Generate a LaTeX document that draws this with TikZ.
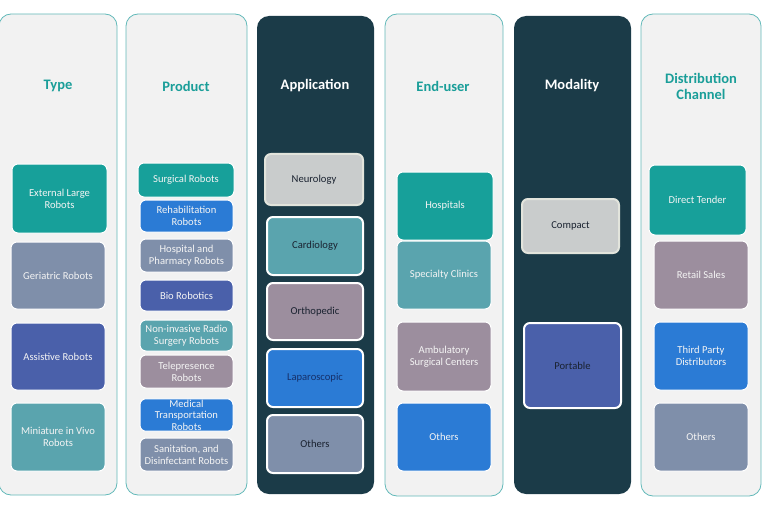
\documentclass[tikz,border=0pt]{standalone}
\usepackage{fontspec}
\setmainfont{Carlito}
\definecolor{cteal}{HTML}{17A09A}
\definecolor{chdr}{HTML}{1A9E99}
\definecolor{cdark}{HTML}{1B3B48}
\definecolor{clight}{HTML}{F2F2F2}
\definecolor{cborder}{HTML}{62B9B9}
\definecolor{cblue}{HTML}{2B7BD5}
\definecolor{cindigo}{HTML}{4A60AA}
\definecolor{cgrayblue}{HTML}{7F8FAA}
\definecolor{cmauve}{HTML}{9C8E9E}
\definecolor{csteel}{HTML}{5AA4AE}
\definecolor{cpale}{HTML}{C9CCCC}
\definecolor{cpaleb}{HTML}{E2E4DC}
\definecolor{ctxt}{HTML}{F4F4F4}
\definecolor{cdtxt}{HTML}{1A2230}
\definecolor{cnavy}{HTML}{16306A}
\newcommand\mybox[7]{\node[#6, minimum width={((#4)-(#2))*1pt}, minimum height={((#5)-(#3))*1pt}] (#1) at ({((#2)+(#4))/2},{((#3)+(#5))/2}) {#7};}
\tikzset{
  lcol/.style={draw=cborder, line width=0.8pt, fill=clight, rounded corners=12pt, inner sep=0pt},
  dcol/.style={fill=cdark, rounded corners=12pt, inner sep=0pt},
  hdrl/.style={font=\bfseries\fontsize{14.5}{16}\selectfont, text=chdr, align=center},
  hdrd/.style={font=\bfseries\fontsize{14.5}{16}\selectfont, text=white, align=center},
  bx/.style={fill=#1, draw=white, line width=1pt, rounded corners=6pt, inner sep=1pt, align=center, text=ctxt, font=\fontsize{10.6}{12}\selectfont},
  dbx/.style={fill=#1, draw=white, line width=2pt, rounded corners=6pt, inner sep=1pt, align=center, text=cdtxt, font=\fontsize{10.6}{12.5}\selectfont},
  pbx/.style={fill=cpale, draw=cpaleb, line width=2pt, rounded corners=6pt, inner sep=1pt, align=center, text=cdtxt, font=\fontsize{10.6}{12.5}\selectfont},
}
\begin{document}
\begin{tikzpicture}[x=1pt,y=-1pt]
\useasboundingbox (0,0) rectangle (775,513);
% columns
\mybox{ctype}{-1}{14}{117}{495}{lcol}{}
\mybox{cprod}{126}{14}{247}{495}{lcol}{}
\mybox{capp}{257}{16}{374}{494}{dcol}{}
\mybox{cend}{385}{14}{503}{496}{lcol}{}
\mybox{cmod}{514}{16}{631}{494}{dcol}{}
\mybox{cdist}{641}{14}{761}{496}{lcol}{}
% headers
\node[hdrl] (htype) at (58,86) {Type};
\node[hdrl] (hprod) at (186,86) {Product};
\node[hdrd] (happ) at (315,86) {Application};
\node[hdrl] (hend) at (443,86) {End-user};
\node[hdrd] (hmod) at (572,86) {Modality};
\node[hdrl] (hdist) at (701,86) {Distribution\\Channel};
% Type
\mybox{t1}{12}{164}{107}{233}{bx=cteal}{External Large\\Robots}
\mybox{t2}{11}{242}{105}{309}{bx=cgrayblue}{Geriatric Robots}
\mybox{t3}{11}{323}{105}{390}{bx=cindigo}{Assistive Robots}
\mybox{t4}{11}{403}{105}{471}{bx=csteel}{Miniature in Vivo\\Robots}
% Product
\mybox{p1}{138}{163}{234}{197}{bx=cteal}{Surgical Robots}
\mybox{p2}{140}{200}{233}{232}{bx=cblue}{Rehabilitation\\Robots}
\mybox{p3}{140}{239}{233}{272}{bx=cgrayblue}{Hospital and\\Pharmacy Robots}
\mybox{p4}{140}{280}{233}{311}{bx=cindigo}{Bio Robotics}
\mybox{p5}{140}{320}{233}{351}{bx=csteel}{Non-invasive Radio\\Surgery Robots}
\mybox{p6}{140}{355}{233}{388}{bx=cmauve}{Telepresence\\Robots}
\mybox{p7}{140}{399}{233}{431}{bx=cblue,font=\fontsize{10.6}{11.5}\selectfont}{Medical\\Transportation\\Robots}
\mybox{p8}{140}{438}{233}{471}{bx=cgrayblue}{Sanitation, and\\Disinfectant Robots}
% Application
\mybox{a1}{265}{154}{363}{205}{pbx}{Neurology}
\mybox{a2}{267}{217}{363}{275}{dbx=csteel}{Cardiology}
\mybox{a3}{267}{283}{363}{340}{dbx=cmauve}{Orthopedic}
\mybox{a4}{267}{349}{363}{407}{dbx=cblue,text=cnavy}{Laparoscopic}
\mybox{a5}{267}{415}{363}{473}{dbx=cgrayblue}{Others}
% End-user
\mybox{e1}{397}{172}{493}{240}{bx=cteal}{Hospitals}
\mybox{e2}{397}{241}{491}{309}{bx=csteel}{Specialty Clinics}
\mybox{e3}{397}{322}{491}{391}{bx=cmauve}{Ambulatory\\Surgical Centers}
\mybox{e4}{397}{403}{491}{471}{bx=cblue}{Others}
% Modality
\mybox{m1}{522}{199}{619}{253}{pbx}{Compact}
\mybox{m2}{524}{323}{621}{408}{dbx=cindigo}{Portable}
% Distribution
\mybox{d1}{649}{165}{746}{235}{bx=cteal}{Direct Tender}
\mybox{d2}{654}{241}{748}{309}{bx=cmauve}{Retail Sales}
\mybox{d3}{654}{322}{748}{390}{bx=cblue}{Third Party\\Distributors}
\mybox{d4}{654}{403}{748}{471}{bx=cgrayblue}{Others}
\end{tikzpicture}
\end{document}
